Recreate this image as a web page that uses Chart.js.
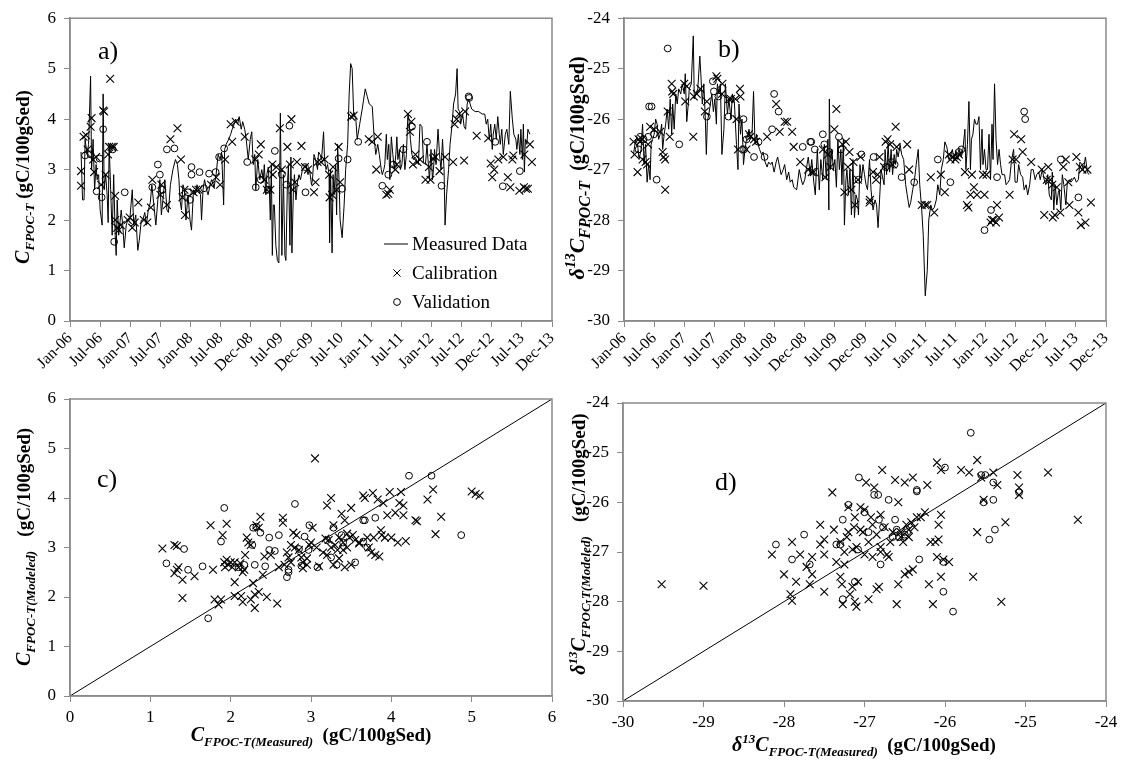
<!DOCTYPE html>
<html>
<head>
<meta charset="utf-8">
<script src="https://cdn.jsdelivr.net/npm/chart.js@4/dist/chart.umd.min.js"></script>
<style>
  body { margin: 0; background: #fff; overflow: hidden; }
  #wrap { position: relative; width: 1125px; height: 761px; }
  #wrap canvas { position: absolute; }
</style>
</head>
<body>
<div id="wrap">
  <canvas id="chartA" width="572" height="385" style="left:0;top:0"></canvas>
  <canvas id="chartB" width="571" height="385" style="left:554px;top:0"></canvas>
  <canvas id="chartC" width="572" height="381" style="left:0;top:380px"></canvas>
  <canvas id="chartD" width="572" height="381" style="left:553px;top:380px"></canvas>
</div>
<script>
// ---- data (months counted from Jan-06) ----
const dateTicks = ['Jan-06','Jul-06','Jan-07','Jul-07','Jan-08','Jul-08','Dec-08','Jul-09','Dec-09','Jul-10','Jan-11','Jul-11','Jan-12','Jul-12','Dec-12','Jul-13','Dec-13'];
const dateTickMonths = [0,6,12,18,24,30,36,42,48,54,60,66,72,78,84,90,96];

// a) measured C_FPOC-T
const measuredMonthsA = [2.2,2.5,2.8,3.0,3.4,3.7,4.1,4.3,4.6,4.9,5.2,5.4,5.7,6.0,6.4,6.6,6.8,7.1,7.4,7.6,7.8,8.1,8.4,8.7,9.0,9.2,9.4,9.7,10.0,10.2,10.5,10.8,11.2,11.5,11.9,12.4,12.7,13.1,13.5,13.8,14.2,14.5,14.9,15.2,15.6,16.0,16.3,16.7,17.1,17.5,17.9,18.2,18.6,18.9,19.3,19.6,20.0,20.5,21.0,21.4,21.7,21.9,22.2,22.5,22.8,23.1,23.5,23.9,24.2,24.6,24.9,25.3,25.6,26.0,26.2,26.5,26.8,27.2,27.5,27.9,28.2,28.7,29.1,29.5,29.9,30.2,30.6,30.8,31.1,31.6,32.0,32.3,32.7,33.0,33.4,33.7,34.1,34.4,34.8,35.1,35.5,35.9,36.2,36.5,36.8,37.0,37.4,37.8,38.2,38.5,38.7,39.0,39.2,39.5,39.7,39.9,40.1,40.3,40.5,40.7,41.0,41.3,41.6,41.9,42.2,42.5,42.8,43.0,43.3,43.5,43.8,44.0,44.2,44.5,44.7,45.0,45.3,45.6,45.9,46.3,46.6,47.0,47.4,47.7,48.1,48.3,48.6,48.9,49.3,49.5,49.8,50.1,50.5,50.7,51.0,51.3,51.6,51.7,51.9,52.2,52.4,52.6,52.9,53.1,53.3,53.6,53.8,54.2,54.6,54.9,55.3,55.6,55.9,56.2,56.5,56.9,57.2,57.7,58.2,58.8,59.2,59.6,60.2,60.6,60.9,61.3,61.6,62.0,62.2,62.5,62.7,63.0,63.2,63.5,63.7,64.0,64.3,64.6,64.9,65.1,65.3,65.6,65.8,66.1,66.4,66.7,67.0,67.3,67.5,67.8,68.1,68.4,68.7,69.0,69.4,69.7,70.1,70.4,70.8,71.1,71.3,71.6,71.9,72.2,72.4,72.6,72.9,73.3,73.6,73.9,74.2,74.5,74.7,75.0,75.4,75.7,76.1,76.4,76.8,77.1,77.3,77.6,77.8,78.2,78.5,78.8,79.1,79.4,80.0,80.7,81.4,82.1,82.6,82.9,83.2,83.5,83.8,84.1,84.3,84.6,84.9,85.2,85.5,85.7,86.0,86.3,86.7,87.0,87.4,87.7,88.1,88.4,88.8,89.0,89.3,89.6,89.8,90.1,90.3,90.5,90.7,91.0,91.2,91.6];
const measuredCarbon = [3.35,2.4,2.4,3.6,3.3,3.5,4.85,3.0,3.6,2.6,3.1,2.8,2.9,2.2,1.9,4.5,2.6,2.9,2.5,1.95,3.5,2.6,1.7,2.9,1.7,1.3,2.4,1.7,2.0,2.2,1.9,1.45,1.9,2.0,2.0,2.6,1.9,2.1,1.4,1.6,2.0,2.0,2.15,1.9,2.2,2.35,2.7,2.3,1.9,2.4,2.8,2.1,2.5,2.8,2.2,2.15,2.7,3.0,3.2,3.1,2.8,2.4,2.2,2.7,2.6,2.0,2.5,2.0,1.8,2.6,2.5,2.7,2.6,2.5,2.0,2.6,2.8,2.6,2.5,2.7,2.8,2.65,2.9,3.3,3.2,3.35,2.3,3.4,3.5,3.6,3.7,3.8,3.9,4.0,3.9,4.05,3.8,3.95,3.8,3.6,3.2,3.6,3.75,3.1,3.3,2.6,3.2,2.8,3.0,2.8,3.1,2.5,2.9,3.05,2.6,2.0,3.1,1.3,2.3,2.3,1.5,1.2,1.15,4.12,1.3,2.9,1.3,1.2,2.7,3.1,1.5,3.25,1.35,2.6,2.9,2.4,2.75,2.9,2.8,3.0,3.05,3.1,2.9,3.0,2.7,2.8,3.3,3.2,3.0,3.35,3.3,3.2,3.75,3.2,3.0,3.1,2.9,1.55,3.0,1.35,2.9,2.5,3.1,2.1,3.5,2.75,2.0,1.65,2.3,3.0,3.5,4.5,5.1,5.0,4.1,4.05,3.6,3.9,4.2,4.6,4.45,4.3,4.25,3.6,3.3,3.5,3.3,3.0,2.9,3.0,3.1,3.7,3.2,3.5,2.8,3.65,3.3,3.0,3.3,3.65,3.2,3.4,3.0,3.1,3.5,3.0,3.3,4.1,4.0,3.6,3.3,3.2,3.25,3.2,3.1,3.9,3.85,3.15,3.1,3.5,3.2,2.8,3.4,2.8,3.0,3.4,3.1,3.8,3.3,3.0,3.6,3.0,1.9,2.5,3.0,3.5,3.9,4.3,4.5,5.0,4.2,4.15,3.9,4.1,3.85,3.8,4.3,4.4,4.2,4.15,4.15,4.1,4.1,3.9,4.0,3.6,3.9,3.4,3.7,3.9,3.6,4.05,3.7,3.5,3.8,3.3,3.7,3.8,3.5,4.55,4.0,3.7,3.6,3.4,3.7,3.3,3.8,3.2,3.9,2.95,3.6,3.5,3.8,3.7];
const calibMonthsA = [2.2,2.2,2.7,3.2,3.5,4.1,4.3,4.6,4.8,5.2,6.2,6.6,6.8,7.1,7.6,7.8,8.0,8.3,8.7,9.0,9.0,9.4,9.7,10.1,11.5,11.9,12.4,12.9,13.6,14.7,15.4,16.1,16.4,18.0,18.2,19.3,20.0,21.4,22.1,22.4,22.8,22.9,24.6,25.1,25.6,28.1,29.1,29.9,30.9,32.0,32.3,33.0,34.8,36.9,37.6,38.0,38.7,39.2,39.9,40.3,40.4,41.1,41.8,42.2,43.3,43.8,44.1,44.4,44.8,45.2,46.1,46.8,47.4,48.6,48.9,49.3,50.0,50.7,51.6,51.7,52.2,52.4,53.1,53.5,53.8,56.0,56.5,59.5,60.2,61.0,61.3,63.0,63.4,63.7,64.8,65.1,67.3,67.7,68.0,68.3,68.8,69.2,69.7,70.8,71.5,71.8,72.3,72.8,73.6,74.7,76.3,76.6,77.0,77.5,78.5,78.7,81.0,83.3,83.8,84.1,84.5,85.3,86.3,87.2,87.7,88.1,88.3,89.5,90.4,90.5,90.8,91.2,91.6,92.0];
const calibCarbon = [2.97,2.68,3.65,3.68,3.4,3.85,4.02,3.2,2.95,3.25,2.7,4.17,4.15,2.9,3.3,3.45,4.8,3.45,3.45,2.48,2.0,1.85,1.8,1.9,2.0,2.05,1.85,1.95,2.35,2.0,1.95,2.25,2.8,2.5,2.7,2.3,3.6,3.82,3.2,2.45,2.6,2.1,2.55,2.6,2.6,2.7,2.85,2.7,3.2,3.9,3.55,3.95,3.65,3.2,3.3,3.5,2.8,2.6,2.6,3.1,2.9,3.05,3.82,3.0,3.45,3.1,4.0,2.6,2.75,3.15,3.47,3.05,3.0,2.55,2.75,3.15,3.15,3.2,2.9,2.45,2.5,3.05,2.6,3.45,2.75,4.05,4.07,3.6,3.55,3.0,3.65,2.5,2.52,2.6,3.0,3.1,4.1,3.75,3.95,3.1,3.3,3.15,3.2,2.8,3.05,2.8,3.22,3.25,2.97,3.25,3.15,3.9,4.0,4.1,3.18,4.15,3.67,3.62,3.12,2.85,3.0,3.2,3.25,2.85,2.65,3.2,3.28,2.58,2.65,3.3,2.62,2.62,3.5,3.15];
const validMonthsA = [3.0,4.1,5.3,5.9,6.3,6.6,8.5,8.8,10.9,16.4,17.5,17.9,18.4,19.3,20.8,23.5,23.9,24.2,24.2,25.8,26.7,27.7,29.0,29.7,30.7,35.3,37.0,38.0,39.4,40.8,42.2,43.1,43.7,46.8,46.9,53.5,54.2,55.3,57.4,62.2,63.4,64.4,66.4,68.1,71.1,74.0,79.4,79.5,84.7,86.2,89.6];
const validCarbon = [3.28,3.3,2.57,3.22,2.45,3.8,3.4,1.57,2.55,2.65,3.1,2.9,2.6,3.4,3.42,2.55,2.4,2.9,3.05,2.95,2.63,2.92,2.95,3.25,3.42,3.15,2.65,2.8,2.6,3.37,2.9,2.7,3.87,3.05,2.55,3.22,2.62,3.2,3.55,2.68,2.9,3.1,3.4,3.85,3.55,2.68,4.45,4.42,3.55,2.67,2.97];

// b) measured delta13C
const measuredMonthsB = [1.9,2.3,2.7,3.0,3.4,3.7,4.0,4.3,4.6,4.9,5.2,5.4,5.7,6.0,6.3,6.6,6.9,7.2,7.5,7.7,8.0,8.3,8.6,8.9,9.2,9.5,9.7,10.0,10.3,10.6,10.9,11.3,11.6,12.0,12.2,12.5,12.8,13.0,13.4,13.8,14.0,14.3,14.7,15.1,15.3,15.6,15.9,16.2,16.4,16.6,16.9,17.2,17.5,17.8,18.1,18.4,18.6,18.9,19.2,19.5,19.9,20.2,20.6,20.9,21.3,21.6,22.0,22.4,22.7,22.9,23.2,23.5,23.8,24.1,24.4,24.7,24.9,25.2,25.5,25.8,26.1,26.4,26.7,27.0,27.4,27.7,28.1,28.5,28.8,29.2,29.5,29.9,30.3,30.6,31.0,31.3,31.7,32.0,32.4,32.8,33.1,33.5,33.8,34.4,34.9,35.3,35.6,36.0,36.3,36.7,37.1,37.4,37.8,38.1,38.5,38.9,39.2,39.6,39.9,40.3,40.6,40.8,40.9,41.1,41.4,41.7,42.0,42.3,42.6,42.9,43.2,43.4,43.7,43.9,44.2,44.4,44.7,45.0,45.3,45.6,45.9,46.2,46.5,46.7,47.0,47.3,47.6,47.9,48.2,48.5,48.9,49.2,49.6,50.0,50.3,50.6,50.9,51.2,51.5,51.8,52.0,52.3,52.6,52.9,53.2,53.5,53.8,54.1,54.3,54.6,55.0,55.3,55.7,56.1,56.4,56.8,57.1,57.5,57.8,58.2,58.6,58.9,59.3,59.6,60.0,60.4,60.7,61.1,61.4,61.8,62.2,62.5,62.9,63.2,63.6,63.9,64.3,64.7,65.0,65.4,65.7,66.1,66.5,66.8,67.2,67.5,67.9,68.1,68.4,68.7,69.0,69.2,69.5,69.8,70.1,70.4,70.7,71.0,71.3,71.5,71.8,72.1,72.4,72.7,73.0,73.3,73.5,73.8,74.1,74.4,74.7,75.0,75.3,75.8,76.1,76.5,76.8,77.2,77.6,77.9,78.3,78.6,79.0,79.4,79.7,80.1,80.4,80.8,81.1,81.5,81.9,82.2,82.6,82.9,83.3,83.7,84.0,84.4,84.7,85.1,85.3,85.6,85.9,86.2,86.5,86.7,87.0,87.3,87.6,88.0,88.3,88.7,89.0,89.4,89.7,90.1,90.5,90.8,91.2,91.5,91.9,92.3,92.6];
const measuredDelta = [-26.7,-26.4,-26.5,-26.8,-26.6,-26.1,-26.9,-26.5,-27.25,-26.9,-27.2,-26.5,-26.4,-26.3,-26.0,-26.1,-26.4,-26.3,-26.1,-26.6,-26.3,-26.1,-25.8,-26.2,-25.6,-26.3,-25.7,-26.2,-25.5,-25.7,-25.4,-25.5,-25.3,-25.5,-25.1,-26.05,-25.7,-25.4,-25.3,-24.35,-25.6,-25.5,-25.4,-24.75,-25.1,-25.7,-25.3,-26.0,-26.7,-26.05,-25.9,-25.7,-25.5,-25.85,-25.6,-26.1,-25.3,-25.5,-25.3,-26.7,-26.2,-25.3,-25.9,-25.6,-26.0,-25.5,-25.7,-26.5,-27.0,-25.7,-26.3,-26.0,-26.9,-26.6,-26.4,-26.3,-26.2,-26.4,-26.3,-25.45,-26.5,-26.3,-26.5,-26.6,-26.7,-26.65,-26.85,-26.95,-26.85,-26.9,-26.85,-27.05,-26.85,-26.75,-26.95,-27.1,-27.0,-26.9,-27.2,-27.05,-27.25,-27.2,-27.35,-27.4,-27.0,-27.2,-27.3,-27.2,-27.0,-26.75,-27.1,-26.8,-27.25,-27.5,-26.6,-27.4,-26.8,-27.2,-26.5,-27.2,-26.4,-27.8,-25.6,-27.0,-26.6,-27.0,-26.8,-27.35,-26.4,-27.0,-26.6,-27.3,-26.4,-28.1,-27.2,-27.0,-27.5,-27.0,-27.9,-26.8,-27.95,-27.5,-27.6,-27.9,-26.9,-27.2,-26.9,-27.1,-27.3,-27.4,-26.8,-27.4,-27.8,-27.6,-27.7,-28.15,-27.6,-27.0,-27.15,-27.3,-26.6,-27.1,-26.5,-27.05,-26.6,-27.1,-26.7,-26.9,-26.6,-26.75,-26.5,-26.7,-26.8,-27.3,-27.5,-27.75,-27.65,-27.4,-27.25,-26.9,-26.6,-27.3,-27.8,-28.3,-29.5,-29.0,-28.0,-27.7,-27.8,-27.75,-27.6,-27.3,-27.5,-27.0,-26.8,-26.45,-26.55,-26.8,-26.75,-26.6,-26.8,-26.65,-26.8,-26.6,-26.75,-26.6,-26.2,-27.0,-26.5,-25.65,-27.0,-26.4,-26.3,-26.0,-26.1,-26.1,-25.95,-27.0,-26.2,-26.9,-26.6,-27.0,-27.0,-26.3,-27.2,-26.1,-26.8,-25.3,-26.4,-26.9,-26.6,-26.9,-27.1,-27.1,-27.3,-27.25,-27.2,-26.8,-26.6,-27.25,-27.25,-26.9,-27.1,-27.15,-27.4,-27.3,-27.5,-27.3,-27.0,-27.0,-27.2,-27.1,-27.05,-27.2,-27.0,-27.2,-27.3,-27.1,-27.5,-27.6,-27.05,-27.8,-27.3,-27.7,-27.45,-27.4,-27.8,-27.1,-27.3,-27.7,-27.25,-27.2,-27.25,-27.2,-27.15,-27.25,-27.2,-26.85,-26.9,-27.0,-26.75,-27.05,-27.1];
const calibMonthsB = [1.9,2.1,2.7,2.9,3.2,3.6,3.7,4.3,4.6,4.8,5.2,6.0,7.2,7.7,7.9,8.2,8.2,8.7,9.1,9.5,9.6,9.8,12.0,12.2,12.5,13.8,13.9,14.5,15.2,16.1,16.5,18.4,18.6,19.5,19.6,20.9,21.3,22.2,22.4,22.7,23.1,23.2,24.4,24.9,25.2,25.9,26.3,28.5,30.3,31.0,32.0,32.5,33.5,33.8,35.1,36.7,37.4,37.8,39.6,40.1,40.6,41.1,41.9,42.3,43.5,43.9,44.2,44.6,44.9,45.3,45.7,46.0,46.6,47.1,48.9,49.0,49.6,50.2,50.5,50.9,51.8,52.1,52.5,53.0,53.5,54.1,54.3,56.4,56.8,59.3,60.0,60.4,61.1,61.8,63.1,63.9,64.7,65.0,65.5,66.0,66.3,66.7,67.9,68.3,68.6,69.0,69.3,69.7,70.3,71.5,71.8,72.2,73.0,73.3,73.6,74.1,74.3,74.7,76.8,77.4,77.7,78.1,79.1,79.4,81.1,83.2,83.7,84.2,84.5,84.9,85.3,85.4,85.8,86.2,86.9,87.5,88.0,88.5,88.7,90.1,90.5,90.8,91.0,91.3,91.9,92.3,93.0];
const calibDelta = [-26.45,-26.7,-27.05,-26.4,-26.45,-26.4,-26.8,-26.85,-26.9,-26.5,-26.15,-26.2,-26.25,-26.65,-26.75,-26.8,-27.4,-25.85,-26.35,-25.3,-25.45,-25.5,-25.3,-25.65,-25.35,-26.35,-25.55,-25.5,-25.4,-25.85,-25.65,-25.15,-25.2,-25.5,-25.3,-25.6,-25.6,-25.6,-26.0,-26.6,-25.4,-25.55,-26.6,-26.3,-26.35,-26.4,-26.45,-26.35,-25.7,-26.25,-26.05,-26.05,-26.25,-26.55,-26.85,-27.0,-27.05,-27.05,-26.6,-27.15,-26.7,-26.95,-26.2,-25.8,-26.5,-27.45,-26.45,-26.95,-26.65,-27.4,-26.85,-27.7,-27.2,-26.75,-27.65,-27.6,-27.05,-27.2,-27.1,-26.75,-26.95,-26.45,-26.4,-26.5,-26.9,-26.15,-26.55,-26.5,-27.0,-27.7,-27.7,-27.7,-27.15,-27.85,-27.1,-27.45,-26.7,-26.8,-26.75,-26.8,-26.75,-26.7,-27.05,-27.7,-27.75,-27.5,-27.1,-27.35,-27.5,-27.1,-27.5,-27.1,-28.05,-28.0,-28.0,-28.05,-27.7,-27.95,-27.5,-26.8,-26.3,-26.8,-26.4,-26.65,-26.85,-27.0,-27.9,-27.2,-26.95,-27.2,-27.3,-27.95,-27.9,-27.35,-27.85,-26.95,-26.8,-27.25,-27.7,-26.75,-27.85,-26.95,-28.1,-27.0,-28.05,-27.0,-27.65];
const validMonthsB = [2.9,3.2,3.9,4.8,5.0,5.5,6.0,6.5,8.7,11.0,16.5,17.7,17.9,18.8,20.8,23.8,23.9,24.4,25.9,26.8,28.0,29.5,29.9,30.8,35.6,37.1,37.3,38.0,39.6,39.9,40.9,42.8,43.2,46.7,47.3,49.7,52.1,53.2,53.9,55.3,57.8,62.5,65.0,66.7,67.2,71.8,73.1,74.3,79.7,79.9,87.0,90.5];
const validDelta = [-26.6,-26.35,-26.4,-26.35,-25.75,-25.75,-26.3,-27.2,-24.6,-26.5,-25.95,-25.25,-25.45,-25.55,-25.95,-26.0,-26.6,-26.4,-26.75,-26.45,-26.75,-26.2,-25.5,-25.85,-26.55,-26.45,-26.45,-26.6,-26.3,-26.5,-26.65,-26.35,-26.6,-27.2,-26.7,-26.75,-26.95,-26.85,-26.9,-27.15,-27.25,-26.8,-27.25,-26.65,-26.6,-28.2,-27.8,-27.15,-25.85,-26.0,-26.8,-27.55];

// c) modeled vs measured C_FPOC-T
const calibMeasuredC = [1.15,1.3,1.33,1.3,1.33,1.35,1.4,1.4,1.55,1.75,
  1.78,1.8,1.85,1.88,1.9,1.92,1.93,1.95,1.95,1.97,
  2.0,2.02,2.05,2.05,2.05,2.1,2.12,2.13,2.15,2.15,
  2.17,2.18,2.2,2.22,2.25,2.25,2.28,2.3,2.3,2.32,
  2.35,2.35,2.37,2.4,2.42,2.45,2.5,2.58,2.6,2.65,
  2.65,2.67,2.7,2.72,2.75,2.75,2.78,2.8,2.82,2.85,
  2.88,2.9,2.95,2.98,3.0,3.02,3.05,3.07,3.15,3.18,
  3.2,3.2,3.22,3.25,3.25,3.28,3.28,3.3,3.33,3.35,
  3.38,3.4,3.4,3.42,3.42,3.45,3.48,3.5,3.5,3.52,
  3.55,3.6,3.65,3.67,3.7,3.72,3.75,3.77,3.78,3.8,
  3.83,3.85,3.87,3.88,3.9,3.92,3.95,3.98,4.0,4.05,
  4.08,4.1,4.12,4.15,4.15,4.18,4.3,4.32,4.45,4.52,
  4.55,4.62,5.0,5.05,5.1,3.35,3.45,3.6,2.9,2.95,3.1];
const calibModeledC = [2.98,3.05,3.03,2.48,2.55,2.6,2.35,1.98,2.42,3.45,
  2.55,1.95,1.85,1.95,3.25,2.7,2.6,3.48,2.75,2.65,
  2.7,2.6,2.7,2.3,2.02,2.6,2.68,2.02,1.9,2.5,
  2.55,2.85,3.2,3.1,3.05,1.95,2.28,2.05,1.78,3.45,
  2.1,3.4,3.62,2.45,2.82,2.0,2.85,1.87,2.6,3.6,
  3.5,2.65,2.9,2.8,3.05,2.7,3.3,3.0,3.25,2.95,
  2.8,2.7,2.65,3.05,3.1,3.4,4.8,3.0,2.9,3.18,
  2.85,3.85,3.15,4.0,3.0,3.45,2.65,3.05,2.95,3.2,
  3.68,3.1,2.95,3.55,2.6,3.0,3.2,3.8,2.65,3.25,
  3.15,3.1,4.05,4.0,3.2,3.0,2.9,4.1,3.2,2.85,
  3.97,2.82,3.35,3.25,3.9,3.2,3.65,4.12,3.2,3.7,
  3.1,3.9,4.12,3.85,3.65,3.13,3.55,3.53,3.97,4.17,
  3.27,3.62,4.13,4.08,4.05,2.78,3.28,3.08,2.58,2.78,2.62];
const validMeasuredC = [1.2,1.42,1.47,1.65,1.72,1.88,1.92,2.1,2.17,2.27,
  2.28,2.3,2.32,2.37,2.43,2.48,2.48,2.55,2.6,2.7,
  2.72,2.72,2.8,2.85,2.88,2.92,2.97,2.98,3.08,3.2,
  3.25,3.28,3.32,3.38,3.55,3.65,3.67,3.7,3.8,4.22,
  4.5,4.87,3.4,3.65];
const validModeledC = [2.68,2.97,2.55,2.62,1.57,3.12,3.8,2.6,2.65,3.05,
  3.4,2.65,3.42,3.3,2.62,3.2,2.95,2.93,3.25,2.4,
  2.5,2.55,3.88,2.97,2.63,3.22,2.95,3.45,2.6,3.15,
  2.8,3.4,2.65,3.25,2.7,3.55,3.55,3.0,3.6,4.45,
  4.45,3.25,3.1,3.12];
const oneToOneC = [0, 6];

// d) modeled vs measured delta13C
const calibMeasuredD = [-29.52,-29.0,-28.15,-28.0,-27.92,-27.9,-27.9,-27.85,-27.8,-27.72,
  -27.68,-27.65,-27.65,-27.55,-27.55,-27.5,-27.5,-27.5,-27.4,-27.38,
  -27.35,-27.3,-27.3,-27.28,-27.27,-27.25,-27.25,-27.22,-27.2,-27.2,
  -27.18,-27.15,-27.15,-27.13,-27.12,-27.12,-27.1,-27.1,-27.08,-27.05,
  -27.05,-27.02,-27.0,-26.98,-26.95,-26.95,-26.92,-26.9,-26.88,-26.85,
  -26.85,-26.82,-26.8,-26.8,-26.78,-26.75,-26.72,-26.7,-26.68,-26.65,
  -26.62,-26.6,-26.58,-26.58,-26.55,-26.52,-26.5,-26.5,-26.48,-26.45,
  -26.45,-26.42,-26.4,-26.4,-26.38,-26.35,-26.3,-26.25,-26.22,-26.2,
  -26.18,-26.15,-26.12,-26.1,-26.1,-26.08,-26.08,-26.05,-26.05,-26.05,
  -26.02,-25.95,-25.8,-25.7,-25.65,-25.6,-25.6,-25.55,-25.52,-25.4,
  -25.35,-25.3,-25.25,-25.1,-25.08,-25.08,-24.72,-24.35,-26.8,-26.55,
  -26.45,-27.0,-26.9];
const calibModeledD = [-27.65,-27.68,-27.05,-27.45,-27.85,-27.98,-26.8,-27.6,-27.05,-27.3,
  -27.65,-27.45,-27.1,-26.45,-26.85,-27.05,-27.8,-26.75,-25.8,-26.55,
  -27.2,-26.8,-27.5,-27.65,-28.05,-27.0,-27.25,-26.7,-26.1,-26.6,
  -27.85,-27.7,-26.95,-26.5,-26.3,-28.0,-28.1,-26.9,-27.6,-26.1,
  -26.55,-26.6,-27.05,-25.6,-26.8,-27.95,-26.3,-27.1,-25.7,-26.65,
  -27.75,-27.7,-26.25,-27.0,-25.35,-26.5,-27.05,-27.1,-26.8,-26.6,
  -25.55,-28.05,-26.0,-27.65,-26.7,-26.8,-25.6,-27.45,-26.45,-26.7,
  -27.4,-26.4,-25.5,-27.35,-26.5,-26.3,-26.3,-26.2,-25.65,-27.65,
  -26.8,-28.05,-26.8,-25.2,-27.1,-26.45,-26.75,-25.35,-27.5,-26.25,
  -27.15,-27.2,-25.35,-25.4,-27.5,-26.6,-25.15,-25.5,-25.95,-25.4,
  -25.65,-28.0,-26.4,-25.45,-25.7,-25.85,-25.4,-26.35,-26.9,-26.6,
  -26.55,-26.15,-26.45];
const validMeasuredD = [-28.1,-27.9,-27.75,-27.68,-27.35,-27.3,-27.27,-27.27,-27.2,-27.12,
  -27.08,-27.07,-27.0,-26.95,-26.88,-26.83,-26.82,-26.8,-26.77,-26.7,
  -26.65,-26.62,-26.6,-26.57,-26.5,-26.47,-26.35,-26.35,-26.32,-26.02,
  -26.0,-26.02,-25.9,-25.68,-25.55,-25.5,-25.52,-25.45,-25.4,-25.4,
  -25.38,-25.08];
const validModeledD = [-26.85,-27.15,-26.65,-27.25,-26.85,-26.85,-26.35,-27.95,-26.05,-27.6,
  -26.95,-25.5,-26.2,-26.6,-25.85,-25.85,-26.35,-27.25,-26.5,-25.95,
  -26.7,-26.35,-26.55,-26.7,-26.65,-26.6,-25.75,-25.78,-27.15,-27.8,
  -25.3,-27.2,-28.2,-24.6,-25.45,-25.45,-26.0,-26.75,-25.6,-25.95,
  -26.55,-25.8];
const oneToOneD = [-30, -24];

// ---- styling ----
const SERIF = '"Liberation Serif", "Times New Roman", serif';
const AXIS_GREY = '#8a8a8a';
const BIG = `bold italic 20px ${SERIF}`;
const SUB = `bold italic 13px ${SERIF}`;
const SUP = `bold italic 13px ${SERIF}`;
const UNIT = `bold 19px ${SERIF}`;

Chart.defaults.font.family = SERIF;
Chart.defaults.color = '#000';

function pts(xs, ys) {
  return xs.map((x, i) => ({ x: x, y: ys[i] }));
}

function crossSet(data) {
  return { data: data, pointStyle: 'crossRot', pointRadius: 5.5, borderColor: '#000', borderWidth: 1.1, showLine: false };
}
function circleSet(data) {
  return { data: data, pointStyle: 'circle', pointRadius: 3.4, borderColor: '#000', backgroundColor: 'rgba(0,0,0,0)', borderWidth: 1, showLine: false };
}
function lineSet(data) {
  return { data: data, showLine: true, pointRadius: 0, borderColor: '#000', borderWidth: 1, tension: 0 };
}

function axis(o) {
  return {
    type: 'linear', min: o.min, max: o.max,
    grid: { display: true, drawOnChartArea: false, drawTicks: true, tickLength: 6, color: AXIS_GREY, lineWidth: 1 },
    border: { display: true, color: AXIS_GREY, width: 1.5 },
    ticks: {
      color: '#000', font: { family: SERIF, size: o.size || 17 }, padding: o.padding,
      stepSize: 1, autoSkip: false, maxRotation: o.rot || 0, minRotation: o.rot || 0,
      callback: o.callback
    },
    afterBuildTicks: o.tickValues ? (s => { s.ticks = o.tickValues.map(v => ({ value: v })); }) : undefined,
    afterFit: s => {
      if (o.width) s.width = o.width;
      if (o.height) s.height = o.height;
    }
  };
}

function richText(ctx, parts, x, y, vertical) {
  let total = 0;
  parts.forEach(p => { ctx.font = p.font; p.w = ctx.measureText(p.text).width; total += p.w; });
  ctx.save();
  ctx.translate(x, y);
  if (vertical) ctx.rotate(-Math.PI / 2);
  ctx.textAlign = 'left';
  ctx.textBaseline = 'alphabetic';
  ctx.fillStyle = '#000';
  let cx = -total / 2;
  parts.forEach(p => { ctx.font = p.font; ctx.fillText(p.text, cx, p.dy || 0); cx += p.w; });
  ctx.restore();
}

// frame, panel letter, axis titles, legend
const panelDecor = {
  id: 'panelDecor',
  afterDraw(chart, args, o) {
    const ctx = chart.ctx;
    const a = chart.chartArea;
    ctx.save();
    ctx.strokeStyle = AXIS_GREY;
    ctx.lineWidth = 1.5;
    ctx.strokeRect(a.left, a.top, a.right - a.left, a.bottom - a.top);
    ctx.fillStyle = '#000';
    ctx.font = `26px ${SERIF}`;
    ctx.textBaseline = 'alphabetic';
    ctx.fillText(o.letter, a.left + o.letterDx, a.top + o.letterDy);
    richText(ctx, o.yTitle, o.yTitleX, o.yTitleY, true);
    if (o.xTitle) richText(ctx, o.xTitle, o.xTitleX, o.xTitleY, false);
    if (o.legend) {
      const L = o.legend;
      ctx.font = `19px ${SERIF}`;
      ctx.lineWidth = 1;
      ctx.strokeStyle = '#000';
      // Measured Data
      ctx.beginPath();
      ctx.moveTo(L.x - 13, L.y); ctx.lineTo(L.x + 11, L.y);
      ctx.stroke();
      ctx.fillText('Measured Data', L.x + 15, L.y + 6);
      // Calibration
      const cy = L.y + 29, r = 3.6;
      ctx.beginPath();
      ctx.moveTo(L.x - r, cy - r); ctx.lineTo(L.x + r, cy + r);
      ctx.moveTo(L.x - r, cy + r); ctx.lineTo(L.x + r, cy - r);
      ctx.stroke();
      ctx.fillText('Calibration', L.x + 15, cy + 6);
      // Validation
      const vy = L.y + 58;
      ctx.beginPath();
      ctx.arc(L.x, vy, 3.4, 0, Math.PI * 2);
      ctx.stroke();
      ctx.fillText('Validation', L.x + 15, vy + 6);
    }
    ctx.restore();
  }
};

function makeChart(id, datasets, scales, decor, padding) {
  return new Chart(document.getElementById(id), {
    type: 'scatter',
    data: { datasets: datasets },
    options: {
      responsive: false,
      animation: false,
      layout: { padding: padding },
      scales: scales,
      plugins: { legend: { display: false }, tooltip: { enabled: false }, panelDecor: decor }
    },
    plugins: [panelDecor]
  });
}

// a)
makeChart('chartA', [
  crossSet(pts(calibMonthsA, calibCarbon)),
  circleSet(pts(validMonthsA, validCarbon)),
  lineSet(pts(measuredMonthsA, measuredCarbon))
], {
  x: axis({
    min: 0, max: 96, tickValues: dateTickMonths, size: 16, padding: 2, rot: 45, height: 64,
    callback: (v, i) => dateTicks[i]
  }),
  y: axis({ min: 0, max: 6, padding: 8, width: 70 })
}, {
  letter: 'a)', letterDx: 28, letterDy: 41,
  yTitle: [{ text: 'C', font: BIG }, { text: 'FPOC-T', font: SUB, dy: 5 }, { text: ' (gC/100gSed)', font: UNIT }],
  yTitleX: 29, yTitleY: 177,
  legend: { x: 397, y: 244 }
}, { left: 0, top: 13, right: 20, bottom: 0 });

// b)
makeChart('chartB', [
  crossSet(pts(calibMonthsB, calibDelta)),
  circleSet(pts(validMonthsB, validDelta)),
  lineSet(pts(measuredMonthsB, measuredDelta))
], {
  x: axis({
    min: 0, max: 96, tickValues: dateTickMonths, size: 16, padding: 2, rot: 45, height: 64,
    callback: (v, i) => dateTicks[i]
  }),
  y: axis({ min: -30, max: -24, padding: 8, width: 70 })
}, {
  letter: 'b)', letterDx: 94, letterDy: 39,
  yTitle: [{ text: 'δ', font: `bold italic 22px ${SERIF}` }, { text: '13', font: `bold italic 15px ${SERIF}`, dy: -9 },
    { text: 'C', font: `bold italic 22px ${SERIF}` }, { text: 'FPOC-T', font: `bold italic 16px ${SERIF}`, dy: 6 },
    { text: '  (gC/100gSed)', font: `bold 20px ${SERIF}` }],
  yTitleX: 30, yTitleY: 168
}, { left: 0, top: 13, right: 19, bottom: 0 });

// c)
makeChart('chartC', [
  crossSet(pts(calibMeasuredC, calibModeledC)),
  circleSet(pts(validMeasuredC, validModeledC)),
  lineSet(pts(oneToOneC, oneToOneC))
], {
  x: axis({ min: 0, max: 6, padding: 5, height: 65 }),
  y: axis({ min: 0, max: 6, padding: 8, width: 70 })
}, {
  letter: 'c)', letterDx: 27, letterDy: 88,
  yTitle: [{ text: 'C', font: BIG }, { text: 'FPOC-T(Modeled)', font: SUB, dy: 5 }, { text: '   (gC/100gSed)', font: UNIT }],
  yTitleX: 30, yTitleY: 167,
  xTitle: [{ text: 'C', font: BIG }, { text: 'FPOC-T(Measured)', font: SUB, dy: 5 }, { text: '  (gC/100gSed)', font: UNIT }],
  xTitleX: 311, xTitleY: 361
}, { left: 0, top: 19, right: 20, bottom: 0 });

// d)
makeChart('chartD', [
  crossSet(pts(calibMeasuredD, calibModeledD)),
  circleSet(pts(validMeasuredD, validModeledD)),
  lineSet(pts(oneToOneD, oneToOneD))
], {
  x: axis({ min: -30, max: -24, padding: 5, height: 60 }),
  y: axis({ min: -30, max: -24, padding: 8, width: 70 })
}, {
  letter: 'd)', letterDx: 92, letterDy: 87,
  yTitle: [{ text: 'δ', font: BIG }, { text: '13', font: SUP, dy: -8 }, { text: 'C', font: BIG },
    { text: 'FPOC-T(Modeled)', font: SUB, dy: 5 }, { text: '   (gC/100gSed)', font: UNIT }],
  yTitleX: 32, yTitleY: 164,
  xTitle: [{ text: 'δ', font: BIG }, { text: '13', font: SUP, dy: -8 }, { text: 'C', font: BIG },
    { text: 'FPOC-T(Measured)', font: SUB, dy: 5 }, { text: '  (gC/100gSed)', font: UNIT }],
  xTitleX: 311, xTitleY: 371
}, { left: 0, top: 23, right: 19, bottom: 0 });
</script>
</body>
</html>
